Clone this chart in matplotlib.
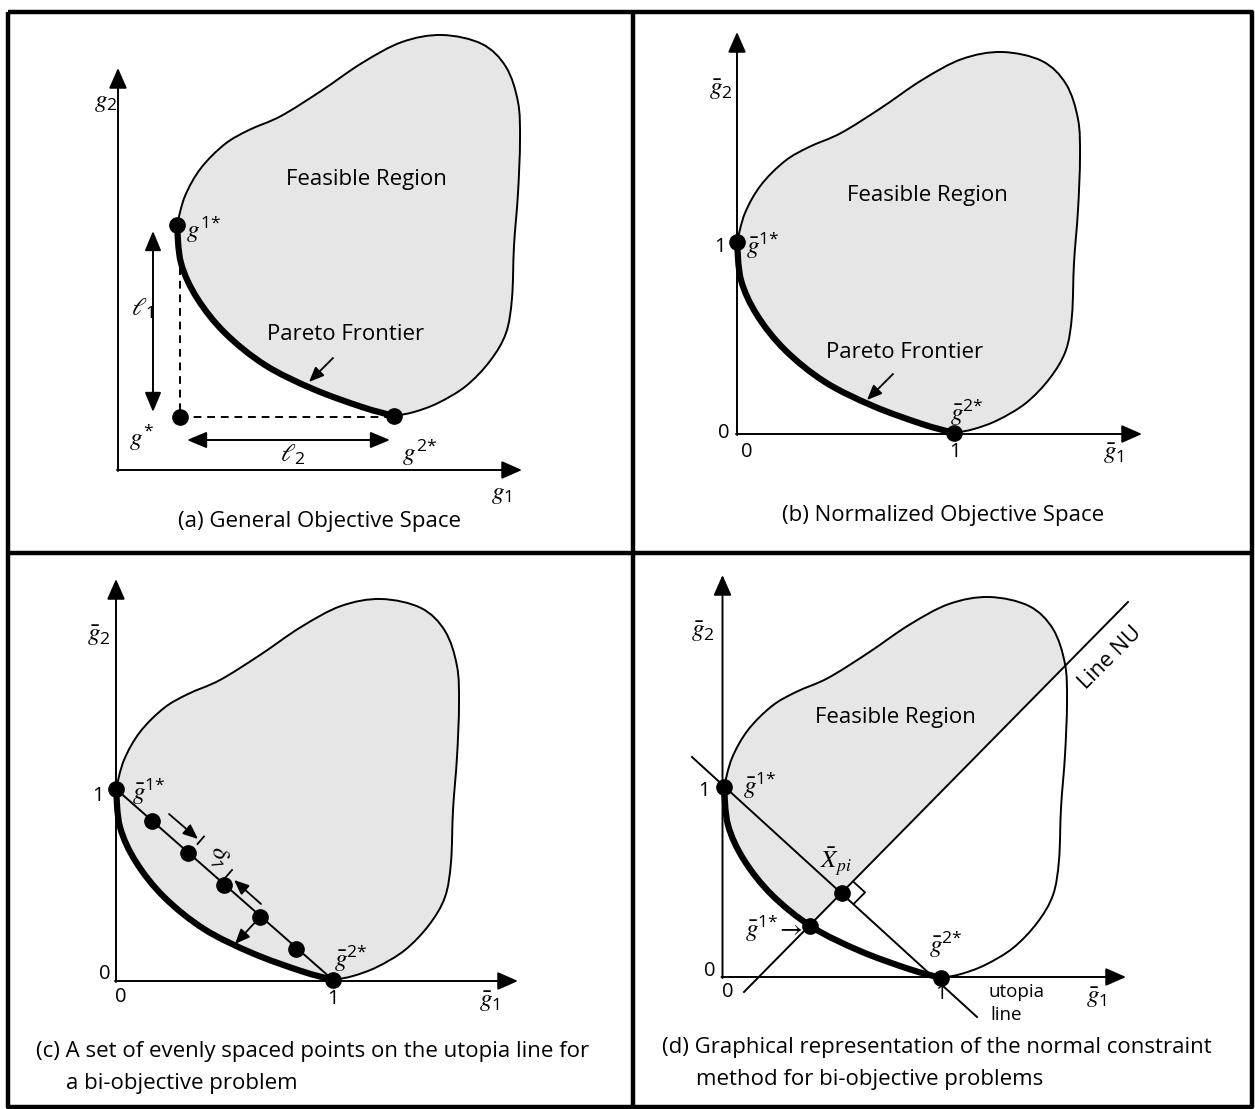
import numpy as np
import matplotlib
matplotlib.use('Agg')
import matplotlib.pyplot as plt
from matplotlib.path import Path
from matplotlib.patches import PathPatch, Polygon

plt.rcParams['mathtext.fontset'] = 'custom'
plt.rcParams['mathtext.rm'] = 'Open Sans'
plt.rcParams['mathtext.it'] = 'STIXGeneral:italic'
plt.rcParams['mathtext.bf'] = 'Open Sans:bold'
plt.rcParams['mathtext.fallback'] = 'stix'
plt.rcParams['font.family'] = ['Open Sans', 'DejaVu Sans']

W, H = 1255, 1109
GRAY = '#e6e6e6'

# ---------------- data (pixel coordinates of panel (a)) ----------------
# feasible-region outline from g1* clockwise to g2*
BLOB_X = [177, 185, 201, 225, 249, 281, 321, 362, 402, 442, 482, 506, 518, 520,
          518, 514, 512, 506, 490, 466, 438, 414, 394]
BLOB_Y = [225, 196, 168, 144, 130, 116, 91, 63, 42, 35, 44, 67, 102, 140,
          193, 246, 298, 333, 361, 386, 403, 412, 416]
# Pareto frontier from g1* to g2*
FRONT_X = [177, 181, 197, 225, 265, 313, 362, 394]
FRONT_Y = [225, 263, 298, 333, 365, 389, 407, 416]
# shift of the region in each panel
PANELS = ['a', 'b', 'c', 'd']
SHIFT_X = [0, 560, -61, 547]
SHIFT_Y = [0, 17, 564, 562]
# axes: origin x, origin y, x-arrow tip, y-arrow tip
AX_X0 = [118, 737, 116, 722.5]
AX_Y0 = [470, 434, 981, 977]
AX_XTIP = [522, 1142, 518, 1126]
AX_YTIP = [68, 32, 579, 575]

CAPTIONS = {
    'a': ['(a) General Objective Space'],
    'b': ['(b) Normalized Objective Space'],
    'c': ['(c) A set of evenly spaced points on the utopia line for',
          'a bi-objective problem'],
    'd': ['(d) Graphical representation of the normal constraint',
          'method for bi-objective problems'],
}

# panel (a) extras
GSTAR = (180, 417)
L1_ARROW = ((153, 412), (153, 231))
L2_ARROW = ((187, 440), (390, 440))
# panel (c) evenly spaced points on utopia line
UTOPIA_C_X = [152, 188, 224, 260, 296]
UTOPIA_C_Y = [821, 853, 885, 917, 949]
# panel (d) lines and points
UTOPIA_D = ((692, 757), (977, 1017))
LINE_NU = ((744, 992), (1128, 602))
XPI = (842, 893)
G1BAR_D = (810, 926)

STAR = r'\mathrm{*}'


def smooth_path(xs, ys, closed=False):
    P = np.column_stack([xs, ys]).astype(float)
    n = len(P)
    verts = [P[0]]
    codes = [Path.MOVETO]
    segs = n if closed else n - 1
    for i in range(segs):
        p1 = P[i % n]
        p2 = P[(i + 1) % n]
        p0 = P[(i - 1) % n] if (closed or i > 0) else P[i]
        p3 = P[(i + 2) % n] if (closed or i + 2 < n) else P[i + 1]
        c1 = p1 + (p2 - p0) / 6.0
        c2 = p2 - (p3 - p1) / 6.0
        verts += [c1, c2, p2]
        codes += [Path.CURVE4] * 3
    if closed:
        verts.append(P[0])
        codes.append(Path.CLOSEPOLY)
    return Path(verts, codes)


fig = plt.figure(figsize=(W / 100, H / 100), dpi=100)
ax = fig.add_axes([0, 0, 1, 1])
ax.set_xlim(0, W)
ax.set_ylim(H, 0)
ax.axis('off')

# frame
FR = dict(color='k', lw=3.2, solid_capstyle='butt')
ax.plot([8, 1252, 1252, 8, 8], [12, 12, 1107, 1107, 12], **FR)
ax.plot([633, 633], [12, 1107], **FR)
ax.plot([8, 1252], [553, 553], **FR)

AXARROW = dict(arrowstyle='-|>,head_length=1.25,head_width=0.55', lw=1.4,
               color='k', shrinkA=0, shrinkB=0)
SMALLARROW = dict(arrowstyle='-|>,head_length=0.9,head_width=0.38', lw=1.3,
                  color='k', shrinkA=0, shrinkB=0)
DOT = dict(marker='o', ms=11, color='k', ls='none', zorder=6)
MS = 18    # math label size
TS = 14.5  # tick size
CS = 16    # caption size
LS = 16    # region label size


def g(bar, sup=None, sub=None):
    s = r'\bar{g}' if bar else 'g'
    if sub:
        s += '_{' + sub + '}'
    if sup:
        s += '^{' + sup + '}'
    return '$' + s + '$'


for k, p in enumerate(PANELS):
    dx, dy = SHIFT_X[k], SHIFT_Y[k]
    bx = np.array(BLOB_X) + dx
    by = np.array(BLOB_Y) + dy
    fx = np.array(FRONT_X) + dx
    fy = np.array(FRONT_Y) + dy
    cx = np.concatenate([bx, fx[-2:0:-1]])
    cy = np.concatenate([by, fy[-2:0:-1]])
    fill = PathPatch(smooth_path(cx, cy, closed=True), fc=GRAY, ec='none', zorder=1)
    ax.add_patch(fill)
    if p == 'd':
        (x1, y1), (x2, y2) = LINE_NU
        ddx, ddy = x2 - x1, y2 - y1
        A = (x1 - 0.6 * ddx, y1 - 0.6 * ddy)
        B = (x2 + 0.6 * ddx, y2 + 0.6 * ddy)
        clip = Polygon([A, B, (B[0], -200), (-200, -200), (-200, A[1])],
                       closed=True, transform=ax.transData)
        fill.set_clip_path(clip)
    ax.add_patch(PathPatch(smooth_path(bx, by), fc='none', ec='k', lw=1.4, zorder=3))
    ax.add_patch(PathPatch(smooth_path(fx, fy), fc='none', ec='k', lw=4.5,
                           capstyle='round', zorder=4))
    # axes
    x0, y0 = AX_X0[k], AX_Y0[k]
    ax.annotate('', xy=(x0, AX_YTIP[k]), xytext=(x0, y0 + 1), arrowprops=AXARROW, zorder=5)
    ax.annotate('', xy=(AX_XTIP[k], y0), xytext=(x0 - 1, y0), arrowprops=AXARROW, zorder=5)
    # end points
    ax.plot([bx[0], bx[-1]], [by[0], by[-1]], **DOT)
    # captions
    lines = CAPTIONS[p]
    if p == 'a':
        ax.text(319, 522, lines[0], fontsize=CS, ha='center', va='center')
    elif p == 'b':
        ax.text(943, 515, lines[0], fontsize=CS, ha='center', va='center')
    elif p == 'c':
        ax.text(36, 1052, lines[0], fontsize=CS, ha='left', va='center')
        ax.text(66, 1084, lines[1], fontsize=CS, ha='left', va='center')
    else:
        ax.text(662, 1048, lines[0], fontsize=CS, ha='left', va='center')
        ax.text(696, 1079, lines[1], fontsize=CS, ha='left', va='center')

# ---------------- panel (a) ----------------
ax.plot(*GSTAR, **DOT)
ax.plot([GSTAR[0], GSTAR[0]], [240, GSTAR[1]], color='k', lw=1.4, ls=(0, (4, 3)), zorder=3)
ax.plot([GSTAR[0], 390], [GSTAR[1], GSTAR[1]], color='k', lw=1.4, ls=(0, (4, 3)), zorder=3)
DBL = dict(arrowstyle='<|-|>,head_length=1.2,head_width=0.5', lw=1.4, color='k',
           shrinkA=0, shrinkB=0)
ax.annotate('', xy=L1_ARROW[1], xytext=L1_ARROW[0], arrowprops=DBL)
ax.annotate('', xy=L2_ARROW[1], xytext=L2_ARROW[0], arrowprops=DBL)
ax.text(106, 101, g(False, sub='2'), fontsize=MS, ha='center', va='center')
ax.text(501, 494, g(False, sub='1'), fontsize=MS, ha='center', va='center')
ax.text(186, 229, g(False, sup='1' + STAR), fontsize=MS, ha='left', va='center')
ax.text(141, 437, g(False, sup=STAR), fontsize=MS, ha='center', va='center')
ax.text(419, 452, g(False, sup='2' + STAR), fontsize=MS, ha='center', va='center')
ax.text(142, 309, r'$\ell_1$', fontsize=MS, ha='center', va='center')
ax.text(293, 455, r'$\ell_2$', fontsize=MS, ha='center', va='center')
ax.text(366, 179, 'Feasible Region', fontsize=LS, ha='center', va='center')
ax.text(346, 334, 'Pareto Frontier', fontsize=LS, ha='center', va='center')
ax.annotate('', xy=(309, 382), xytext=(333, 358), arrowprops=SMALLARROW)

# ---------------- panel (b) ----------------
ax.text(721, 90, g(True, sub='2'), fontsize=MS, ha='center', va='center')
ax.text(1114, 454, g(True, sub='1'), fontsize=MS, ha='center', va='center')
ax.text(720, 247, '1', fontsize=TS, ha='center', va='center')
ax.text(724, 433, '0', fontsize=TS, ha='center', va='center')
ax.text(747, 452, '0', fontsize=TS, ha='center', va='center')
ax.text(955, 452, '1', fontsize=TS, ha='center', va='center')
ax.text(746, 245, g(True, sup='1' + STAR), fontsize=MS, ha='left', va='center')
ax.text(967, 412, g(True, sup='2' + STAR), fontsize=MS, ha='center', va='center')
ax.text(927, 196, 'Feasible Region', fontsize=LS, ha='center', va='center')
ax.text(905, 352, 'Pareto Frontier', fontsize=LS, ha='center', va='center')
ax.annotate('', xy=(867, 400), xytext=(893, 374), arrowprops=SMALLARROW)

# ---------------- panel (c) ----------------
ax.plot([116, 333], [789, 980], color='k', lw=1.4, zorder=3)
ax.plot(UTOPIA_C_X, UTOPIA_C_Y, **DOT)
ax.annotate('', xy=(198, 839), xytext=(169, 814), arrowprops=SMALLARROW)
ax.plot([197.5, 204], [844, 836.5], color='k', lw=1.3)
ax.annotate('', xy=(234, 880), xytext=(261, 904), arrowprops=SMALLARROW)
ax.plot([225.5, 232], [877.5, 870], color='k', lw=1.3)
ax.annotate('', xy=(235, 944), xytext=(260, 917), arrowprops=SMALLARROW)
ax.text(219, 856, r'$\delta_1$', fontsize=MS, ha='center', va='center', rotation=-85)
ax.text(99, 636, g(True, sub='2'), fontsize=MS, ha='center', va='center')
ax.text(490, 1001, g(True, sub='1'), fontsize=MS, ha='center', va='center')
ax.text(98, 796, '1', fontsize=TS, ha='center', va='center')
ax.text(105, 974, '0', fontsize=TS, ha='center', va='center')
ax.text(121, 997, '0', fontsize=TS, ha='center', va='center')
ax.text(333, 999, '1', fontsize=TS, ha='center', va='center')
ax.text(149, 791, g(True, sup='1' + STAR), fontsize=MS, ha='center', va='center')
ax.text(351, 958, g(True, sup='2' + STAR), fontsize=MS, ha='center', va='center')

# ---------------- panel (d) ----------------
ax.plot(*zip(*UTOPIA_D), color='k', lw=1.4, zorder=3)
ax.plot(*zip(*LINE_NU), color='k', lw=1.4, zorder=3)
u_nu = np.array(LINE_NU[1]) - np.array(LINE_NU[0])
u_nu = u_nu / np.hypot(*u_nu)
u_ut = np.array(UTOPIA_D[1]) - np.array(UTOPIA_D[0])
u_ut = u_ut / np.hypot(*u_ut)
X = np.array(XPI, float)
s = 16
sq = np.array([X + s * u_nu, X + s * u_nu + s * u_ut, X + s * u_ut])
ax.plot(sq[:, 0], sq[:, 1], color='k', lw=1.3, zorder=3)
ax.plot(*XPI, **DOT)
ax.plot(*G1BAR_D, **DOT)
ax.text(836, 862, r'$\bar{X}_{pi}$', fontsize=MS, ha='center', va='center')
ax.text(803, 928, r'$\bar{g}^{1' + STAR + r'}\!\rightarrow$', fontsize=MS,
        ha='right', va='center')
ax.text(1110, 658, 'Line NU', fontsize=15.5, ha='center', va='center', rotation=45)
ax.text(895, 718, 'Feasible Region', fontsize=LS, ha='center', va='center')
ax.text(989, 992, 'utopia', fontsize=13.5, ha='left', va='center')
ax.text(990, 1015, 'line', fontsize=13.5, ha='left', va='center')
ax.text(703, 631, g(True, sub='2'), fontsize=MS, ha='center', va='center')
ax.text(1097, 997, g(True, sub='1'), fontsize=MS, ha='center', va='center')
ax.text(704, 791, '1', fontsize=TS, ha='center', va='center')
ax.text(710, 971, '0', fontsize=TS, ha='center', va='center')
ax.text(728, 992, '0', fontsize=TS, ha='center', va='center')
ax.text(941, 994, '1', fontsize=TS, ha='center', va='center')
ax.text(760, 785, g(True, sup='1' + STAR), fontsize=MS, ha='center', va='center')
ax.text(946, 944, g(True, sup='2' + STAR), fontsize=MS, ha='center', va='center')

fig.savefig('out.png', dpi=100)
